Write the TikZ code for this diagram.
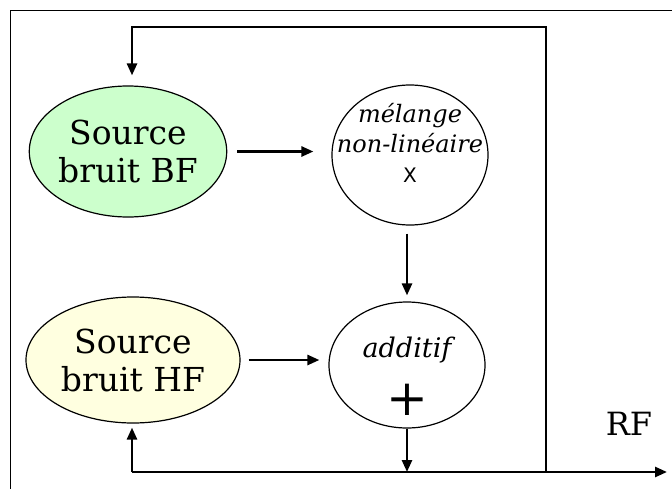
\documentclass[tikz,border=0pt]{standalone}
\usepackage{fontspec}
\setmainfont{DejaVu Serif}
\setsansfont{DejaVu Sans}
\usetikzlibrary{shapes.geometric,arrows.meta}

\definecolor{bfgreen}{HTML}{CCFFCC}
\definecolor{hfyellow}{HTML}{FFFFE0}

\tikzset{
	src/.style={ellipse,draw,line width=1.2pt,inner sep=0pt,align=center,
		font=\fontsize{33}{38}\selectfont},
	op/.style={ellipse,draw,line width=1.2pt,inner sep=0pt},
	flow/.style={line width=2.6pt,-{Triangle[length=12pt,width=10pt]}},
	wire/.style={line width=2.6pt}
}

\begin{document}
\begin{tikzpicture}[x=1pt,y=-1pt]

	\useasboundingbox (0,0) rectangle (672,488);
	\clip (0,0) rectangle (672,488);
	\draw[line width=1pt] (10,10) rectangle (700,520);

	\node[src,fill=bfgreen,minimum width=189pt,minimum height=131pt] (bf) at (128,151.5) {Source\\bruit BF};
	\node[src,fill=hfyellow,minimum width=214pt,minimum height=126pt] (hf) at (133,360) {Source\\bruit HF};

	\node[op,minimum width=156pt,minimum height=140pt] (mix) at (410,155) {};
	\node[align=center,font=\fontsize{24}{30}\selectfont\itshape] (mixtxt) at ([yshift=12pt]mix.center)
		{mélange\\non-linéaire\\{\sffamily\upshape\fontsize{20}{28}\selectfont X}};

	\node[op,minimum width=156pt,minimum height=126pt] (add) at (407,365) {};
	\node[font=\fontsize{27}{30}\selectfont\itshape] (addtxt) at ([yshift=15pt]add.center) {additif};
	\node[font=\fontsize{50}{50}\selectfont,inner sep=0pt] (plus) at ([yshift=-35pt]add.center) {+};

	\node[font=\fontsize{32}{38}\selectfont] (rf) at (629,424) {RF};

	\coordinate (jn) at (546,472);
	\coordinate (tr) at (546,27);
	\coordinate (tl) at (132,27);
	\coordinate (bl) at (132,472);
	\coordinate (out) at (667,472);
	\coordinate (sum) at (407,472);

	\draw[flow,shorten <=10pt,shorten >=18pt] (bf.east) -- (bf.east -| mix.west);
	\draw[flow,shorten <=8pt,shorten >=9pt] (hf.east) -- (hf.east -| add.west);
	\draw[flow,shorten <=8pt,shorten >=6pt] (mix.south -| add.north) -- (add.north);
	\draw[flow] (add.south) -- (sum);

	\draw[wire] (bl) -- (jn);
	\draw[flow] (jn) -- (out);
	\draw[flow,shorten >=10pt] (jn) -- (tr) -- (tl) -- (bf.north -| tl);
	\draw[flow,shorten >=4pt] (bl) -- (hf.south -| bl);

\end{tikzpicture}
\end{document}
